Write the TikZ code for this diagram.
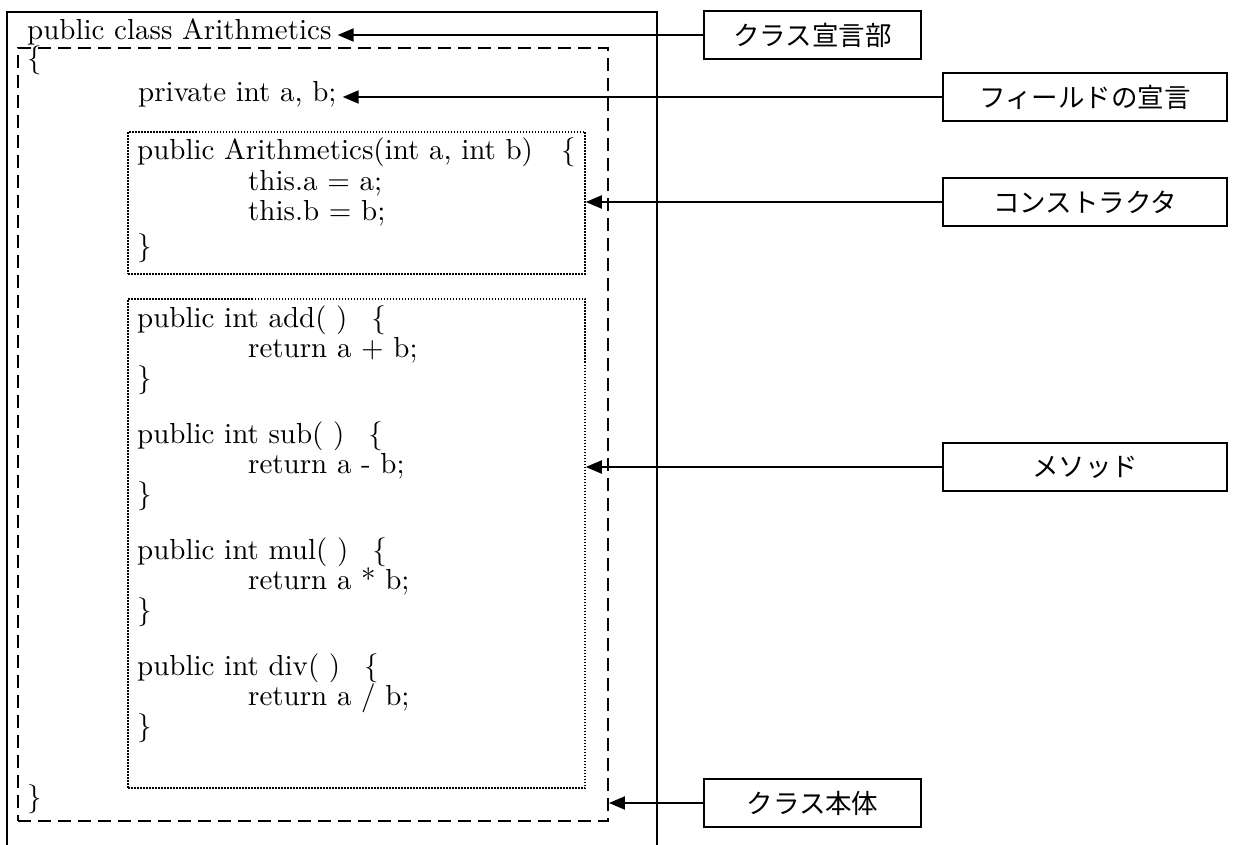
\documentclass[tikz,border=0pt]{standalone}
\usepackage{fontspec}
\usetikzlibrary{arrows.meta}
\newfontfamily\codeface{lmroman10-regular.otf}
\newfontfamily\jpfont{Noto Sans CJK JP}
\newcommand\codefont{\codeface\fontsize{29}{30}\selectfont}

\begin{document}
\begin{tikzpicture}[x=1pt,y=-1pt,
    code/.style={anchor=base west,inner sep=0pt,font=\codefont},
    lbl/.style={draw,line width=2pt,minimum height=48pt,font=\jpfont\fontsize{26.5}{26.5}\selectfont},
    blk/.style={draw,line width=1.5pt,dash pattern=on 1.5pt off 1.5pt,minimum width=457pt},
    arr/.style={-{Triangle[length=16pt,width=13pt]},line width=2pt}
  ]
  \useasboundingbox (0,0) rectangle (1257,845);
  % frame of the listing, open at the bottom
  \draw[line width=2pt] (7,845) -- (7,12) -- (657,12) -- (657,845);
  % class body and the member groups
  \node[draw,line width=1.8pt,dash pattern=on 13pt off 7pt,minimum width=590pt,minimum height=773pt] (body) at (313,434.5) {};
  \node[blk,minimum height=142pt] (ctor) at (356.5,203) {};
  \node[blk,minimum height=489pt] (meth) at (356.5,543.5) {};

  % source lines
  \node[code] (cls) at (27,40) {public class Arithmetics};
  \node[code] (open) at (27,68) {\{};
  \node[code] (fld) at (138,102) {private int a, b;};
  \node[code] (ctorhead) at (137,160) {public Arithmetics(int a, int b)\hspace{28pt}\{};
  \node[code] (seta) at (248,190) {this.a = a;};
  \node[code] (setb) at (248,220) {this.b = b;};
  \node[code] (ctorend) at (137,255) {\}};
  \foreach \m/\op/\y in {add/+/327,sub/-/443,mul/*/559,div/{/}/675}{
    \node[code] (\m-head) at (137,\y) {public int \m( )\hspace{24pt}\{};
    \node[code] (\m-ret) at (248,\y+30) {return a \op{} b;};
    \node[code] (\m-end) at (137,\y+60) {\}};
  }
  \node[code] (close) at (27,806) {\}};

  % labels on the right
  \node[lbl,minimum width=217pt] (decllbl) at (812.5,35) {クラス宣言部};
  \node[lbl,minimum width=284pt] (fldlbl) at (1085,97) {フィールドの宣言};
  \node[lbl,minimum width=284pt] (ctorlbl) at (1085,202) {コンストラクタ};
  \node[lbl,minimum width=284pt] (methlbl) at (1085,467) {メソッド};
  \node[lbl,minimum width=217pt] (bodylbl) at (812.5,803) {クラス本体};

  \foreach \a/\b/\g in {decllbl/cls/6pt,fldlbl/fld/6pt,ctorlbl/ctor/0pt,methlbl/meth/0pt,bodylbl/body/0pt}
    \draw[arr,shorten >=\g] (\a.west) -- (\a.west -| \b.east);
\end{tikzpicture}
\end{document}
